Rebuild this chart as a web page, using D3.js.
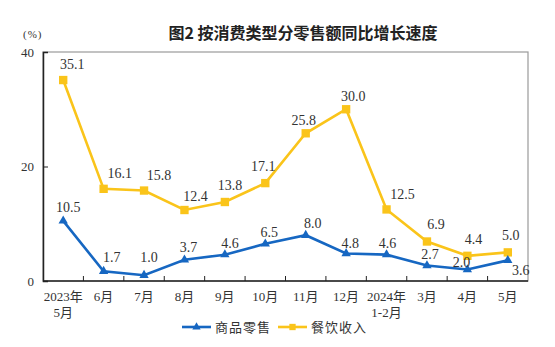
<!DOCTYPE html>
<meta charset="utf-8">
<style>
body { margin: 0; background: #fff; }
svg text { font-family: "Liberation Serif", "Noto Sans CJK SC", serif; fill: #333; }
.title { font-family: "Noto Sans CJK SC", sans-serif; font-weight: 600; fill: #222; }
.legend text { font-family: "Noto Sans CJK SC", sans-serif; }
</style>
<svg width="555" height="347"></svg>
<script src="https://d3js.org/d3.v7.min.js"></script>
<script>
// months, two lines where needed
var months = [["2023年", "5月"], ["6月"], ["7月"], ["8月"], ["9月"], ["10月"], ["11月"], ["12月"], ["2024年", "1-2月"], ["3月"], ["4月"], ["5月"]]
var goods = [10.5, 1.7, 1.0, 3.7, 4.6, 6.5, 8.0, 4.8, 4.6, 2.7, 2.0, 3.6]
var catering = [35.1, 16.1, 15.8, 12.4, 13.8, 17.1, 25.8, 30.0, 12.5, 6.9, 4.4, 5.0]
var yTicks = [0, 20, 40]

var svg = d3.select("svg"),
    margin = {left: 43, right: 27, top: 52, bottom: 66},
    width = +svg.attr("width"),
    height = +svg.attr("height")

var x = d3.scaleBand().domain(d3.range(months.length)).range([margin.left, width - margin.right])
var y = d3.scaleLinear().domain([0, 40]).range([height - margin.bottom, margin.top])
var cx = function(i) { return x(i) + x.bandwidth() / 2 }

//grey frame on top/right
svg.append("rect")
  .attr("x", margin.left).attr("y", margin.top)
  .attr("width", width - margin.left - margin.right)
  .attr("height", y(0) - margin.top)
  .attr("fill", "none").attr("stroke", "#9a9a9a").attr("stroke-width", 1.2)

//y axis, ticks pointing inside
var yAxis = svg.append("g")
  .attr("transform", "translate(" + margin.left + ",0)")
  .call(d3.axisLeft(y).tickValues(yTicks).tickSize(-5).tickPadding(9))
yAxis.select(".domain").attr("stroke", "#222").attr("stroke-width", 1.5)
yAxis.selectAll(".tick line").attr("stroke", "#222")
yAxis.selectAll("text").attr("font-size", 13).attr("fill", "#333")
  .style("font-family", "Liberation Serif")

//x axis: ticks at band edges
var xg = svg.append("g").attr("transform", "translate(0," + y(0) + ")")
xg.append("line").attr("x1", margin.left).attr("x2", width - margin.right)
  .attr("stroke", "#222").attr("stroke-width", 1.5)
xg.selectAll(".xt").data(d3.range(1, months.length)).enter().append("line")
  .attr("x1", function(i) { return x(i) }).attr("x2", function(i) { return x(i) })
  .attr("y1", 0).attr("y2", -5).attr("stroke", "#222")
xg.selectAll(".xl").data(months).enter().append("text")
  .attr("text-anchor", "middle").attr("font-size", 13)
  .attr("x", function(d, i) { return cx(i) })
  .each(function(d) {
    var t = d3.select(this)
    d.forEach(function(s, k) {
      t.append("tspan").attr("x", t.attr("x")).attr("y", 20 + k * 16).text(s)
    })
  })

svg.append("text").attr("class", "title")
  .attr("x", 303).attr("y", 39).attr("text-anchor", "middle").attr("font-size", 16)
  .text("图2  按消费类型分零售额同比增长速度")
svg.append("text").attr("x", 23).attr("y", 38).attr("font-size", 11).attr("fill", "#666")
  .attr("letter-spacing", 1).text("(%)")

var blue = "#1667c2", yellow = "#fac41a"
var line = d3.line().x(function(d, i) { return cx(i) }).y(function(d) { return y(d) })

function series(data, color, symbol, size, shift) {
  var g = svg.append("g")
  g.append("path").attr("d", line(data))
    .attr("fill", "none").attr("stroke", color).attr("stroke-width", 2.6)
  g.selectAll("path.m").data(data).enter().append("path").attr("class", "m")
    .attr("d", d3.symbol().type(symbol).size(size))
    .attr("transform", function(d, i) { return "translate(" + cx(i) + "," + y(d) + ")" })
    .attr("fill", color)
  g.selectAll("text").data(data).enter().append("text")
    .attr("font-size", 14).attr("text-anchor", "middle")
    .attr("x", function(d, i) { return cx(i) + shift[i][0] })
    .attr("y", function(d, i) { return y(d) + shift[i][1] })
    .text(function(d) { return d.toFixed(1) })
}

//label offsets from each point
var cateringShift = [[9, -11], [16, -11], [15, -11], [11, -9], [5, -12], [-2, -12], [-2, -8], [7, -8], [16, -10], [9, -12], [6, -12], [3, -12]]
var goodsShift = [[5, -9], [8, -9], [5, -13], [4, -8], [5, -7], [4, -7], [7, -7], [4, -6], [1, -7], [3, -7], [-6, -3], [13, 15]]

series(catering, yellow, d3.symbolSquare, 70, cateringShift)
series(goods, blue, d3.symbolTriangle, 38, goodsShift)

//legend
var lg = svg.append("g").attr("class", "legend").attr("transform", "translate(0,327)")
var items = [["商品零售", blue, d3.symbolTriangle, 30, 182], ["餐饮收入", yellow, d3.symbolSquare, 40, 278]]
items.forEach(function(it) {
  lg.append("line").attr("x1", it[4]).attr("x2", it[4] + 29)
    .attr("stroke", it[1]).attr("stroke-width", 2.6)
  lg.append("path").attr("d", d3.symbol().type(it[2]).size(it[3]))
    .attr("transform", "translate(" + (it[4] + 14.5) + ",0)").attr("fill", it[1])
  lg.append("text").attr("x", it[4] + 33).attr("y", 5).attr("font-size", 13)
    .attr("fill", "#444").attr("letter-spacing", 1).text(it[0])
})
</script>
